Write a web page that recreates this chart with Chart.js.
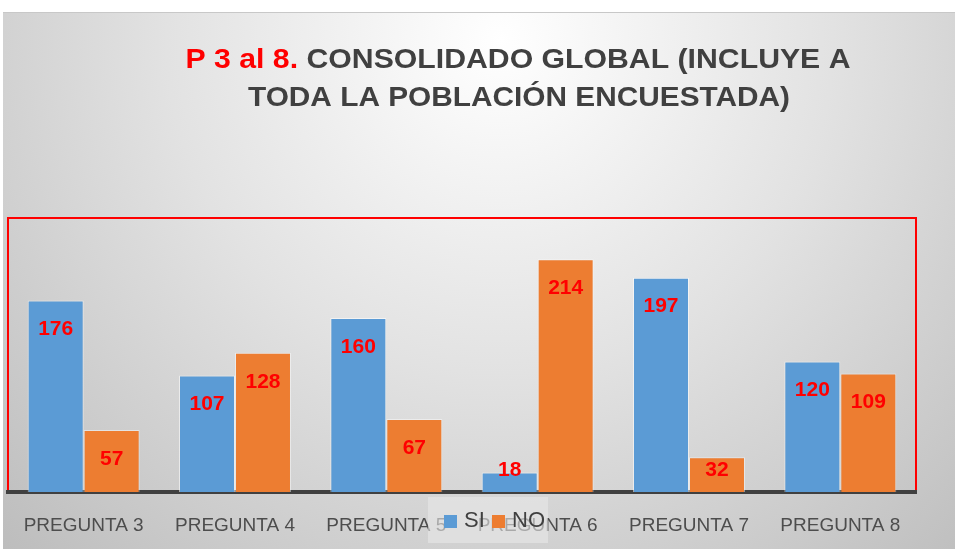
<!DOCTYPE html>
<html>
<head>
<meta charset="utf-8">
<script src="https://cdn.jsdelivr.net/npm/chart.js@4.4.0/dist/chart.umd.min.js"></script>
<style>
html,body{margin:0;padding:0;background:#ffffff;}
#wrap{position:relative;width:955px;height:549px;}
</style>
</head>
<body>
<div id="wrap"><canvas id="c" width="955" height="549"></canvas></div>
<script>
const categories = ['PREGUNTA 3', 'PREGUNTA 4', 'PREGUNTA 5', 'PREGUNTA 6', 'PREGUNTA 7', 'PREGUNTA 8'];
const seriesNames = ['SI', 'NO'];
const siValues = [176, 107, 160, 18, 197, 120];
const noValues = [57, 128, 67, 214, 32, 109];
const titleRed = 'P 3 al 8.';
const titleLine1 = ' CONSOLIDADO GLOBAL (INCLUYE A';
const titleLine2 = 'TODA LA POBLACIÓN ENCUESTADA)';
const yMax = 250;

const BLUE = '#5b9bd5';
const ORANGE = '#ed7d31';
const TITLE_FONT = 'bold 28px "Liberation Sans Narrow", "Liberation Sans", Arial, sans-serif';

const bgPlugin = {
  id: 'bg',
  beforeDraw(chart) {
    const ctx = chart.ctx;
    ctx.save();
    ctx.fillStyle = '#ffffff';
    ctx.fillRect(0, 0, chart.width, chart.height);
    const g = ctx.createRadialGradient(500, 40, 0, 500, 40, 740);
    g.addColorStop(0, '#ffffff');
    g.addColorStop(0.45, '#e2e2e2');
    g.addColorStop(1, '#bababa');
    ctx.fillStyle = g;
    ctx.fillRect(3, 12, chart.width - 3, chart.height - 12);
    ctx.strokeStyle = '#c8c8c8';
    ctx.lineWidth = 1;
    ctx.beginPath(); ctx.moveTo(3, 12.5); ctx.lineTo(chart.width, 12.5); ctx.stroke();
    // title
    ctx.font = TITLE_FONT;
    ctx.textBaseline = 'alphabetic';
    const wRed = ctx.measureText(titleRed).width;
    const w1 = ctx.measureText(titleLine1).width;
    const total1 = wRed + w1;
    const s1 = 665 / total1;
    ctx.save();
    ctx.translate(518 - 665 / 2, 68);
    ctx.scale(s1, 1);
    ctx.fillStyle = '#ff0000';
    ctx.textAlign = 'left';
    ctx.fillText(titleRed, 0, 0);
    ctx.fillStyle = '#404040';
    ctx.fillText(titleLine1, wRed, 0);
    ctx.restore();
    const w2 = ctx.measureText(titleLine2).width;
    const s2 = 542 / w2;
    ctx.save();
    ctx.translate(519 - 542 / 2, 106);
    ctx.scale(s2, 1);
    ctx.fillStyle = '#404040';
    ctx.fillText(titleLine2, 0, 0);
    ctx.restore();
    // red box
    const a = chart.chartArea;
    ctx.strokeStyle = '#ff0000';
    ctx.lineWidth = 2;
    ctx.strokeRect(a.left, a.top - 2, a.right - a.left, a.bottom - a.top + 2);
    ctx.restore();
  }
};

const labelPlugin = {
  id: 'valLabels',
  afterDatasetsDraw(chart) {
    const ctx = chart.ctx;
    ctx.save();
    ctx.font = 'bold 21px "Liberation Sans", Arial, sans-serif';
    ctx.fillStyle = '#ff0000';
    ctx.textAlign = 'center';
    ctx.textBaseline = 'middle';
    const base = chart.scales.y.getPixelForValue(0);
    chart.data.datasets.forEach((ds, di) => {
      const meta = chart.getDatasetMeta(di);
      meta.data.forEach((bar, i) => {
        let y = bar.y + 29;
        if (y > base - 22) y = base - 22;
        ctx.fillText(String(ds.data[i]), bar.x, y);
      });
    });
    ctx.restore();
  }
};

const legendPlugin = {
  id: 'customLegend',
  afterDraw(chart) {
    const ctx = chart.ctx;
    ctx.save();
    ctx.fillStyle = 'rgba(232,232,232,0.6)';
    ctx.fillRect(428, 497, 120, 46);
    const colors = [BLUE, ORANGE];
    const xs = [444, 492];
    ctx.font = '22px "Liberation Sans", Arial, sans-serif';
    ctx.textBaseline = 'middle';
    ctx.textAlign = 'left';
    seriesNames.forEach((n, i) => {
      ctx.fillStyle = colors[i];
      ctx.fillRect(xs[i], 515, 13, 13);
      ctx.fillStyle = '#404040';
      ctx.fillText(n, xs[i] + 20, 521);
    });
    ctx.restore();
  }
};

new Chart(document.getElementById('c'), {
  type: 'bar',
  data: {
    labels: categories,
    datasets: [
      { label: seriesNames[0], data: siValues, backgroundColor: BLUE, borderColor: 'rgba(255,255,255,0.55)', borderWidth: 1 },
      { label: seriesNames[1], data: noValues, backgroundColor: ORANGE, borderColor: 'rgba(255,255,255,0.45)', borderWidth: 1 }
    ]
  },
  options: {
    responsive: false,
    animation: false,
    events: [],
    layout: { padding: { left: 8, right: 39, top: 220, bottom: 0 } },
    datasets: { bar: { barPercentage: 1, categoryPercentage: 0.74 } },
    plugins: { legend: { display: false }, title: { display: false }, tooltip: { enabled: false } },
    scales: {
      x: {
        grid: { display: false, drawTicks: false },
        border: { display: true, color: '#404040', width: 4 },
        ticks: { color: '#4d4d4d', font: { size: 19, family: '"Liberation Sans", Arial, sans-serif' }, padding: 22, maxRotation: 0 },
        afterFit(s) { s.height = 57; }
      },
      y: {
        display: false,
        min: 0,
        max: yMax,
        grid: { display: false }
      }
    }
  },
  plugins: [bgPlugin, labelPlugin, legendPlugin]
});
</script>
</body>
</html>
